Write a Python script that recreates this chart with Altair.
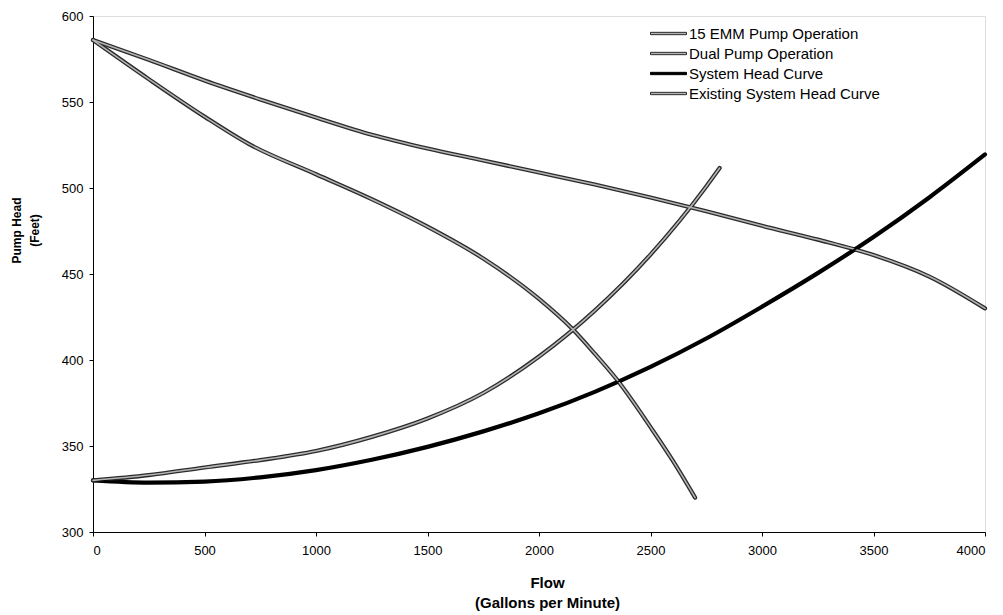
import altair as alt
import pandas as pd

series_names = ["15 EMM Pump Operation", "Dual Pump Operation", "System Head Curve", "Existing System Head Curve"]

flow_emm = [0, 250, 500, 700, 1000, 1250, 1500, 1750, 2000, 2150, 2250, 2350, 2500, 2600, 2700]
head_emm = [586, 563.3, 541.5, 525.5, 508, 493.5, 477.5, 459, 435.5, 418, 403.7, 388.5, 361, 341.5, 320]

flow_dual = [0, 250, 500, 750, 1000, 1250, 1500, 1750, 2000, 2250, 2500, 2750, 3000, 3250, 3500, 3750, 4000]
head_dual = [586, 574.5, 562.5, 551.5, 541, 531, 523, 516, 509, 502, 494.5, 486.5, 478, 470, 461, 448.5, 430]

flow_sys = [0, 250, 500, 750, 1000, 1250, 1500, 1750, 2000, 2250, 2500, 2750, 3000, 3250, 3500, 3750, 4000]
head_sys = [330, 328.7, 329.3, 331.8, 336, 342, 349.5, 358.5, 369, 381.5, 396, 412.5, 431, 450.5, 471.5, 494.5, 519.5]

flow_exist = [0, 250, 500, 750, 1000, 1250, 1500, 1750, 2000, 2250, 2500, 2750, 2810]
head_exist = [330, 333.1, 337.5, 341.8, 347.1, 355.3, 366, 380.8, 402, 428.7, 461.3, 500.9, 511.6]

x_ticks = [0, 500, 1000, 1500, 2000, 2500, 3000, 3500, 4000]
y_ticks = [300, 350, 400, 450, 500, 550, 600]

rows = []
for name, fx, hy in zip(series_names,
                        [flow_emm, flow_dual, flow_sys, flow_exist],
                        [head_emm, head_dual, head_sys, head_exist]):
    for i, (f, h) in enumerate(zip(fx, hy)):
        rows.append({"series": name, "flow": f, "head": h, "order": i})
df = pd.DataFrame(rows)

FONT = "Liberation Sans"

x_enc = alt.X("flow:Q",
              scale=alt.Scale(domain=[0, 4000], nice=False),
              axis=alt.Axis(values=x_ticks, format="d", title=["Flow", "(Gallons per Minute)"],
                            titleFontWeight="bold", titleFontSize=15, titleLineHeight=20,
                            titlePadding=18, titleX=454,
                            labelFontSize=13, labelPadding=8, tickSize=4,
                            grid=False, domainColor="#000", tickColor="#000",
                            labelColor="#000", titleColor="#000", labelFont=FONT, titleFont=FONT))
y_enc = alt.Y("head:Q",
              scale=alt.Scale(domain=[300, 600], nice=False, zero=False),
              axis=alt.Axis(values=y_ticks, title=["Pump Head", "(Feet)"],
                            titleFontWeight="bold", titleFontSize=12, titleLineHeight=18,
                            titleAngle=-90, titleX=-70, titleY=214, titleAlign="center",
                            labelFontSize=13, labelPadding=6, tickSize=4,
                            grid=False, domainColor="#000", tickColor="#000",
                            labelColor="#000", titleColor="#000", labelFont=FONT, titleFont=FONT))

base = alt.Chart(df).encode(x=x_enc, y=y_enc, order="order:Q")

outer = base.mark_line(strokeWidth=4.2, interpolate="monotone", strokeCap="round").encode(
    color=alt.Color("series:N",
                    scale=alt.Scale(domain=series_names, range=["#2b2b2b", "#2b2b2b", "#000000", "#2b2b2b"]),
                    legend=None)
)
inner = base.mark_line(strokeWidth=1.6, interpolate="monotone", strokeCap="round").encode(
    color=alt.Color("series:N",
                    scale=alt.Scale(domain=series_names, range=["#b4b4b4", "#b4b4b4", "#000000", "#b4b4b4"]),
                    legend=None)
)

legend_cfg = alt.Legend(title=None, orient="none", legendX=566, legendY=8,
                        symbolType="M-2,-0.13H2V0.13H-2Z", symbolSize=324, symbolStrokeWidth=1,
                        symbolOpacity=1, labelLimit=400,
                        labelFontSize=15, labelFont=FONT, labelColor="#000",
                        rowPadding=2, labelOffset=11, padding=0)

legend_layer = base.mark_point(filled=True, opacity=1).encode(
    fill=alt.Fill("series:N",
                  scale=alt.Scale(domain=series_names, range=["#b4b4b4", "#b4b4b4", "#000000", "#b4b4b4"]),
                  legend=legend_cfg),
    stroke=alt.Stroke("series:N",
                      scale=alt.Scale(domain=series_names, range=["#2b2b2b", "#2b2b2b", "#000000", "#2b2b2b"]),
                      legend=legend_cfg),
).transform_filter("false")

chart = alt.layer(outer, inner, legend_layer).resolve_scale(color="independent").properties(
    width=892, height=516,
    autosize=alt.AutoSizeParams(type="none"),
    padding={"left": 85, "top": 8, "right": 10, "bottom": 80},
).configure_view(stroke=None).configure(font=FONT)

chart.save("out.html", embed_options={"renderer": "svg", "actions": False})
